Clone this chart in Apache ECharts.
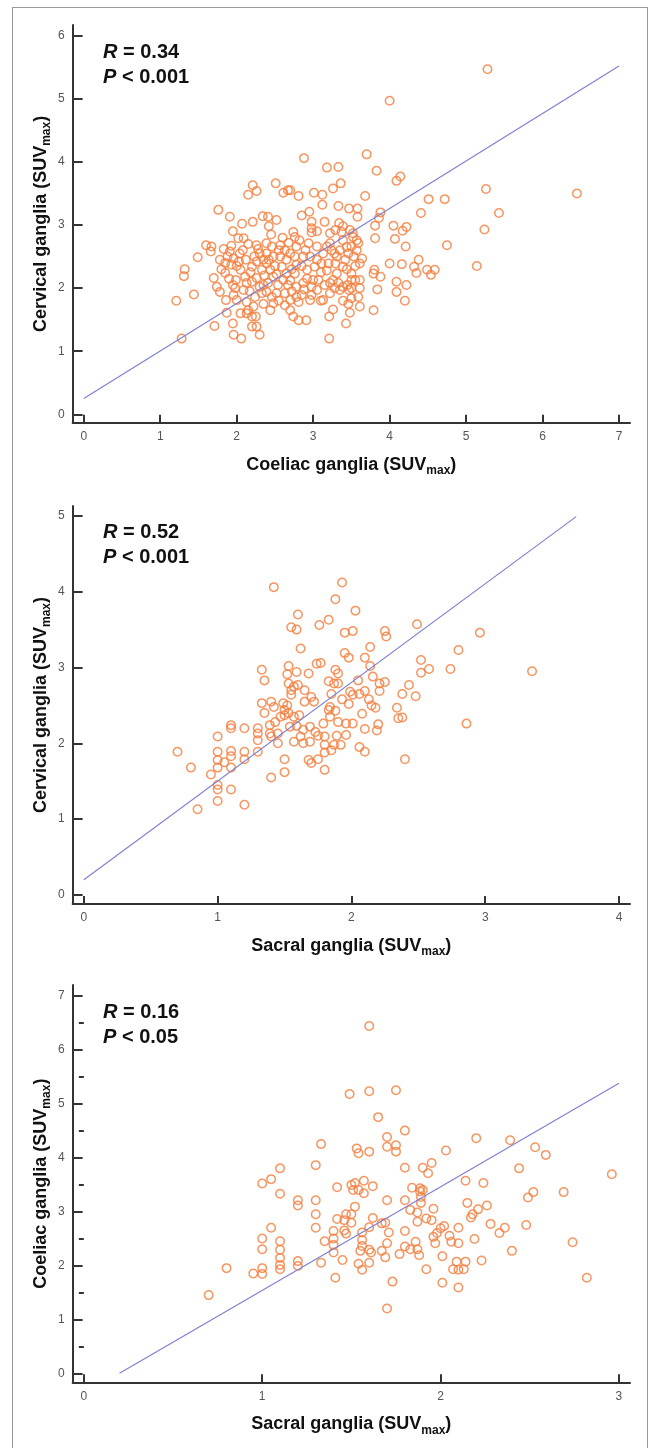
<!DOCTYPE html>
<html>
<head>
<meta charset="utf-8">
<script src="https://cdn.jsdelivr.net/npm/echarts@6/dist/echarts.min.js"></script>
<style>
  html, body { margin: 0; padding: 0; background: #fff; }
  #chart { width: 650px; height: 1448px; }
  #frame { position: absolute; left: 12px; top: 7px; width: 634px; height: 1440px; border: 1.5px solid #9a9a9a; border-bottom: none; pointer-events: none; }
</style>
</head>
<body>
<div id="chart"></div>
<div id="frame"></div>
<script>
// panel 1: coeliac (x) vs cervical (y)
const coeliacCervical = [
  [2.21,3.63],[2.26,3.54],[2.15,3.48],[2.51,3.66],[2.61,3.51],[2.67,3.55],[2.81,3.46],
  [1.76,3.24],[1.91,3.13],[2.07,3.02],[2.21,3.05],[2.34,3.14],[2.41,3.13],[2.52,3.08],[2.42,2.98],
  [1.60,2.68],[1.67,2.66],[1.66,2.58],[1.49,2.49],[1.78,2.45],[1.32,2.30],[1.31,2.19],[1.21,1.80],[1.44,1.90],[1.28,1.20],
  [1.70,2.16],[1.74,2.02],[1.78,1.94],[1.71,1.40],[1.85,2.40],[1.85,2.24],
  [1.93,2.67],[1.91,2.58],[1.96,2.47],[1.93,2.37],[2.02,2.79],[2.09,2.79],
  [1.86,1.81],[1.96,1.89],[1.87,1.61],[1.95,1.44],[1.96,1.26],[2.06,1.20],
  [2.04,2.55],[2.03,2.42],[2.05,2.29],[2.11,2.18],[2.13,2.08],[2.09,1.97],
  [1.99,2.13],[1.98,2.00],[2.00,1.81],
  [2.13,1.78],[2.15,1.65],[2.22,1.71],[2.13,1.60],[2.20,1.55],[2.25,1.55],[2.26,1.39],[2.30,1.26],[2.20,1.39],
  [2.26,2.68],[2.30,2.55],[2.26,2.42],[2.20,2.34],[2.33,2.29],[2.26,2.16],[2.30,2.02],[2.33,1.92],[2.24,1.86],
  [2.39,2.71],[2.46,2.66],[2.39,2.55],[2.48,2.50],[2.39,2.39],[2.44,2.29],[2.48,2.18],[2.41,2.08],[2.39,1.94],[2.46,1.86],[2.48,1.76],[2.44,1.65],
  [2.57,2.68],[2.63,2.60],[2.57,2.50],[2.65,2.45],[2.59,2.34],[2.65,2.23],[2.61,2.13],[2.67,2.05],[2.63,1.92],[2.70,1.81],[2.63,1.73],[2.70,1.65],[2.74,1.55],
  [2.76,2.81],[2.78,2.66],[2.76,2.50],[2.78,2.37],[2.76,2.23],[2.78,2.02],[2.78,1.86],[2.81,1.78],[2.81,1.49],
  [4.00,4.97],[2.88,4.06],[3.18,3.91],[3.33,3.92],[3.70,4.12],[3.83,3.86],[4.09,3.70],[4.14,3.77],
  [3.26,3.58],[3.36,3.66],[2.70,3.55],[3.01,3.51],[3.12,3.48],[3.12,3.32],[3.33,3.30],[3.47,3.26],[3.58,3.26],[3.58,3.13],[3.68,3.46],[2.95,3.21],
  [4.51,3.41],[4.72,3.41],[4.41,3.19],[3.88,3.20],[3.86,3.11],[3.81,2.99],[4.05,2.99],[4.22,2.97],[4.17,2.91],
  [2.98,3.05],[2.98,2.95],[2.98,2.88],[3.34,3.03],[3.39,2.98],[3.37,2.89],[3.29,2.92],[3.22,2.87],
  [3.48,2.92],[3.52,2.87],[3.57,2.76],[3.81,2.79],[4.07,2.78],[4.21,2.66],[4.75,2.68],[4.00,2.39],
  [3.80,2.29],[3.79,2.23],[3.88,2.18],[4.16,2.38],[4.38,2.45],[4.32,2.34],[4.35,2.24],[4.49,2.29],[4.54,2.21],[4.59,2.29],
  [4.09,2.10],[4.22,2.05],[3.84,1.98],[4.20,1.80],[4.09,1.94],[5.14,2.35],[3.79,1.65],
  [3.61,1.71],[3.59,1.86],[3.61,2.00],[3.50,1.84],[3.47,1.97],[3.48,1.61],[3.43,1.44],[3.21,1.55],[3.26,1.66],[3.21,1.20],[2.91,1.49],[3.10,1.80],
  [3.39,1.80],[3.39,2.02],[3.50,2.00],[3.55,2.13],[3.61,2.39],[3.53,2.50],[3.64,2.47],[3.57,2.60],[3.50,2.66],
  [3.18,2.28],[3.22,2.08],[3.33,2.08],[3.35,1.97],[3.22,1.92],[3.13,1.81],[2.96,1.81],[2.98,1.89],[2.85,1.89],[2.87,2.08],
  [3.00,2.13],[3.07,2.13],[2.92,2.29],[3.02,2.34],[3.11,2.39],[3.20,2.39],[3.31,2.50],[3.24,2.60],[3.18,2.66],[3.05,2.66],
  [2.94,2.71],[2.82,2.76],[2.74,2.89],[2.87,2.50],[2.96,2.50],[3.13,2.55],[3.39,2.34],[3.42,2.45],[3.35,2.60],[3.46,2.55],
  [3.52,2.81],[3.39,2.76],[3.22,2.71],[3.59,2.71],[3.50,2.23],[3.50,2.13],[3.61,2.13],[3.46,1.75],[2.98,2.02],[3.05,1.97],
  [3.26,2.13],[3.31,2.23],[3.29,2.39],
  [1.83,2.62],[1.88,2.50],[1.80,2.30],[1.90,2.15],[1.95,2.05],[2.00,2.35],[2.08,2.60],[2.12,2.45],[2.15,2.70],[2.18,2.25],
  [2.20,2.10],[2.17,1.95],[2.23,2.50],[2.28,2.62],[2.35,2.45],[2.36,2.20],[2.35,2.05],[2.42,2.45],[2.50,2.35],[2.52,2.22],
  [2.54,2.05],[2.52,1.92],[2.55,2.60],[2.60,2.80],[2.68,2.72],[2.70,2.55],[2.72,2.30],[2.70,2.12],[2.72,1.95],[2.85,2.35],
  [2.90,2.60],[2.92,2.15],[2.88,1.98],[3.05,2.45],[3.10,2.25],[3.15,2.05],[3.28,2.55],[3.28,2.00],[3.44,2.65],[3.44,2.30],
  [3.55,2.35],[3.45,2.05],[2.55,1.80],[2.35,1.75],[2.05,1.60],[1.95,2.90],[2.45,2.85],[2.85,3.15],[3.05,2.90],[3.15,3.05],
  [5.28,5.47],[5.26,3.57],[6.45,3.50],[5.43,3.19],[5.24,2.93]
];
// panel 2: sacral (x) vs cervical (y)
const sacralCervical = [
  [0.70,1.89],[0.80,1.68],[0.85,1.13],[0.95,1.59],[1.00,2.09],[1.00,1.89],[1.00,1.78],[1.00,1.68],[1.00,1.45],[1.00,1.39],
  [1.00,1.24],[1.05,1.75],[1.10,2.24],[1.10,2.20],[1.10,1.90],[1.10,1.83],[1.10,1.68],[1.10,1.39],[1.20,2.20],[1.20,1.89],
  [1.20,1.79],[1.20,1.19],[1.30,2.20],[1.30,2.13],[1.30,2.04],[1.30,1.89],[1.33,2.97],[1.35,2.83],[1.33,2.53],[1.35,2.40],
  [1.39,2.24],[1.39,2.13],[1.40,2.09],[1.40,2.55],[1.42,2.48],[1.40,1.55],[1.42,4.06],[1.43,2.28],[1.45,2.00],[1.45,2.13],
  [1.47,2.35],[1.49,2.53],[1.52,2.50],[1.50,2.44],[1.50,2.37],[1.53,2.40],[1.57,2.35],[1.61,2.37],[1.50,1.79],[1.50,1.62],
  [1.53,3.02],[1.52,2.91],[1.53,2.79],[1.55,2.70],[1.55,2.64],[1.55,3.53],[1.59,3.50],[1.60,3.70],[1.62,3.25],[1.59,2.94],
  [1.57,2.75],[1.60,2.77],[1.68,2.92],[1.65,2.70],[1.65,2.55],[1.70,2.61],[1.72,2.55],[1.54,2.22],[1.59,2.23],[1.64,2.18],
  [1.69,2.22],[1.57,2.02],[1.62,2.09],[1.64,2.00],[1.69,2.02],[1.73,2.15],[1.75,2.10],[1.80,2.09],[1.68,1.78],[1.70,1.74],
  [1.75,1.79],[1.80,1.65],[1.80,1.88],[1.80,1.98],[1.74,3.05],[1.77,3.06],[1.76,3.56],[1.83,3.63],[1.83,2.82],[1.79,2.26],
  [1.83,2.44],[1.88,3.90],[1.93,4.12],[2.03,3.75],[1.95,3.46],[2.01,3.48],[2.25,3.48],[2.26,3.41],[2.49,3.57],[2.14,3.27],
  [1.95,3.19],[1.98,3.13],[2.10,3.13],[2.14,3.02],[1.88,2.97],[1.90,2.92],[2.80,3.23],[2.52,3.10],[2.52,2.93],[2.58,2.98],
  [2.74,2.98],[2.16,2.88],[2.05,2.83],[1.87,2.79],[1.90,2.79],[2.21,2.79],[2.25,2.81],[2.21,2.69],[2.43,2.77],[1.85,2.65],
  [1.99,2.68],[2.01,2.64],[2.06,2.65],[2.10,2.69],[1.93,2.58],[2.13,2.58],[2.38,2.65],[2.48,2.62],[1.84,2.48],[1.88,2.43],
  [1.98,2.52],[2.15,2.50],[2.18,2.47],[2.34,2.47],[2.35,2.33],[2.38,2.34],[2.08,2.39],[1.84,2.35],[1.90,2.28],[1.96,2.26],
  [2.01,2.26],[2.20,2.25],[2.19,2.17],[2.10,2.19],[1.89,2.10],[1.96,2.11],[1.87,1.98],[1.92,1.98],[2.06,1.95],[2.10,1.89],
  [1.85,1.91],[2.40,1.79],[2.86,2.26],[2.96,3.46],[3.35,2.95]
];
// panel 3: sacral (x) vs coeliac (y)
const sacralCoeliac = [
  [0.70,1.45],[0.80,1.95],[0.95,1.85],[1.00,3.52],[1.00,2.50],[1.00,2.30],[1.00,1.95],[1.00,1.84],[1.05,3.60],[1.05,2.70],
  [1.10,3.80],[1.10,3.33],[1.10,2.45],[1.10,2.29],[1.10,2.14],[1.10,2.01],[1.10,1.93],[1.20,3.21],[1.20,3.11],[1.20,2.08],
  [1.20,1.99],[1.30,3.86],[1.30,3.21],[1.30,2.95],[1.30,2.70],[1.33,4.25],[1.33,2.05],[1.35,2.45],[1.40,2.64],[1.40,2.50],
  [1.40,2.38],[1.40,2.24],[1.41,1.77],[1.42,2.86],[1.42,3.45],[1.45,2.10],[1.46,2.65],[1.47,2.59],[1.47,2.95],[1.50,2.95],
  [1.46,2.84],[1.50,2.79],[1.52,3.09],[1.49,5.18],[1.50,3.49],[1.52,3.53],[1.57,3.57],[1.62,3.47],[1.51,3.40],[1.54,3.40],
  [1.57,3.34],[1.53,4.17],[1.54,4.08],[1.60,4.11],[1.60,5.23],[1.60,6.44],[1.65,4.75],[1.70,4.38],[1.70,4.20],[1.75,4.23],
  [1.75,4.11],[1.75,5.25],[1.80,4.50],[1.80,3.81],[1.90,3.81],[1.93,3.71],[1.95,3.90],[2.03,4.13],[2.20,4.36],[1.84,3.44],
  [1.885,3.43],[1.90,3.40],[1.885,3.37],[2.14,3.57],[2.24,3.53],[1.70,3.21],[1.80,3.21],[1.89,3.16],[1.89,3.27],[1.96,3.05],
  [2.15,3.16],[2.26,3.11],[2.21,3.04],[2.18,2.95],[2.17,2.89],[1.62,2.88],[1.83,3.03],[1.87,2.98],[1.67,2.78],[1.69,2.79],
  [1.87,2.81],[1.92,2.87],[1.95,2.84],[2.28,2.77],[2.10,2.70],[2.02,2.73],[2.00,2.69],[1.98,2.60],[1.96,2.53],[2.33,2.60],
  [1.56,2.61],[1.60,2.71],[1.71,2.61],[1.80,2.64],[1.86,2.44],[1.56,2.47],[1.56,2.36],[1.55,2.27],[1.60,2.29],[1.61,2.24],
  [1.70,2.41],[1.67,2.27],[1.80,2.35],[1.83,2.30],[1.87,2.30],[1.88,2.19],[1.77,2.21],[2.05,2.55],[2.06,2.44],[2.10,2.41],
  [2.19,2.49],[1.54,2.03],[1.56,1.92],[1.60,2.05],[1.69,2.15],[2.01,2.17],[2.09,2.07],[2.07,1.93],[2.10,1.92],[2.14,2.07],
  [2.13,1.93],[2.23,2.09],[1.92,1.93],[1.73,1.70],[2.01,1.68],[2.10,1.59],[1.70,1.20],[1.97,2.41],
  [2.36,2.70],[2.40,2.27],[2.48,2.75],[2.49,3.26],[2.52,3.36],[2.53,4.19],[2.59,4.05],[2.69,3.36],[2.74,2.43],[2.82,1.77],
  [2.96,3.69],[2.44,3.80],[2.39,4.32]
];

// regression lines (end points)
const fit1 = [[0, 0.25], [7, 5.52]];
const fit2 = [[0, 0.2], [3.68, 4.99]];
const fit3 = [[0.2, 0], [3.0, 5.38]];

const xTicks1 = [0, 1, 2, 3, 4, 5, 6, 7];
const yTicks1 = [0, 1, 2, 3, 4, 5, 6];
const xTicks2 = [0, 1, 2, 3, 4];
const yTicks2 = [0, 1, 2, 3, 4, 5];
const xTicks3 = [0, 1, 2, 3];
const yTicks3 = [0, 1, 2, 3, 4, 5, 6, 7];
const yMinor3 = [0.5, 1.5, 2.5, 3.5, 4.5, 5.5, 6.5];

const stats = [['0.34', '< 0.001'], ['0.52', '< 0.001'], ['0.16', '< 0.05']];

const FONT = 'Liberation Sans, Arial, sans-serif';
const ORANGE = '#f47d3c';
const LINE = '#7f80d2';

function axisName(t) {
  return '{b|' + t + ' (SUV}{s|max}{b|)}';
}
const nameRich = {
  b: { fontSize: 18, fontWeight: 'bold', color: '#111', fontFamily: FONT, lineHeight: 24 },
  s: { fontSize: 12, fontWeight: 'bold', color: '#111', fontFamily: FONT, lineHeight: 24, verticalAlign: 'bottom', padding: [7, 0, 0, 0] }
};

function xAxis(idx, min, max, ticks, name) {
  return {
    type: 'value', gridIndex: idx, min: min, max: max,
    name: axisName(name), nameLocation: 'middle', nameGap: 30, nameMoveOverlap: false,
    nameTextStyle: { rich: nameRich },
    axisLine: { onZero: false, lineStyle: { color: '#333', width: 2 } },
    axisTick: { inside: true, length: 8, customValues: ticks, lineStyle: { color: '#333', width: 2 } },
    axisLabel: { customValues: ticks, color: '#555', fontSize: 12, fontFamily: FONT, margin: 8 },
    splitLine: { show: false }
  };
}
function yAxis(idx, min, max, ticks, name) {
  return {
    type: 'value', gridIndex: idx, min: min, max: max,
    name: axisName(name), nameLocation: 'middle', nameGap: 20, nameMoveOverlap: false,
    nameTextStyle: { rich: nameRich },
    axisLine: { onZero: false, lineStyle: { color: '#333', width: 2 } },
    axisTick: { inside: true, length: 10, customValues: ticks, lineStyle: { color: '#333', width: 2 } },
    axisLabel: { customValues: ticks, color: '#555', fontSize: 12, fontFamily: FONT, margin: 8 },
    splitLine: { show: false }
  };
}

function scatter(idx, data) {
  return {
    type: 'scatter', xAxisIndex: idx, yAxisIndex: idx, data: data,
    symbol: 'circle', symbolSize: 8.5, silent: true,
    itemStyle: { color: 'rgba(0,0,0,0)', borderColor: ORANGE, borderWidth: 1.5 }
  };
}
function fit(idx, data) {
  return {
    type: 'line', xAxisIndex: idx, yAxisIndex: idx, data: data,
    symbol: 'none', silent: true, z: 3,
    lineStyle: { color: LINE, width: 1.2 }
  };
}

const titleTops = [35, 515, 995];
const chart = echarts.init(document.getElementById('chart'), null, { renderer: 'canvas' });

const yMinorAxis = {
  type: 'value', gridIndex: 2, min: -0.167, max: 7.2,
  axisLine: { show: false },
  axisTick: { inside: true, length: 5, customValues: yMinor3, lineStyle: { color: '#333', width: 2 } },
  axisLabel: { show: false },
  splitLine: { show: false }
};

chart.setOption({
  animation: false,
  backgroundColor: '#fff',
  title: stats.map((s, i) => ({
    left: 98, top: titleTops[i],
    text: '{i|R}{n| = ' + s[0] + '}\n{i|P}{n| ' + s[1] + '}',
    textStyle: {
      rich: {
        i: { fontSize: 20, fontWeight: 'bold', fontStyle: 'italic', color: '#111', fontFamily: FONT, lineHeight: 25 },
        n: { fontSize: 20, fontWeight: 'bold', color: '#111', fontFamily: FONT, lineHeight: 25 }
      }
    }
  })),
  grid: [
    { left: 72.6, right: 20, top: 25, height: 397.7 },
    { left: 72.6, right: 20, top: 506, height: 398 },
    { left: 72.6, right: 20, top: 985, height: 397.3 }
  ],
  xAxis: [
    xAxis(0, -0.146, 7.144, xTicks1, 'Coeliac ganglia'),
    xAxis(1, -0.084, 4.082, xTicks2, 'Sacral ganglia'),
    xAxis(2, -0.063, 3.062, xTicks3, 'Sacral ganglia')
  ],
  yAxis: [
    yAxis(0, -0.133, 6.17, yTicks1, 'Cervical ganglia'),
    yAxis(1, -0.119, 5.13, yTicks2, 'Cervical ganglia'),
    yAxis(2, -0.167, 7.2, yTicks3, 'Coeliac ganglia'),
    yMinorAxis
  ],
  series: [
    scatter(0, coeliacCervical), fit(0, fit1),
    scatter(1, sacralCervical), fit(1, fit2),
    scatter(2, sacralCoeliac), fit(2, fit3)
  ]
});
</script>
</body>
</html>
